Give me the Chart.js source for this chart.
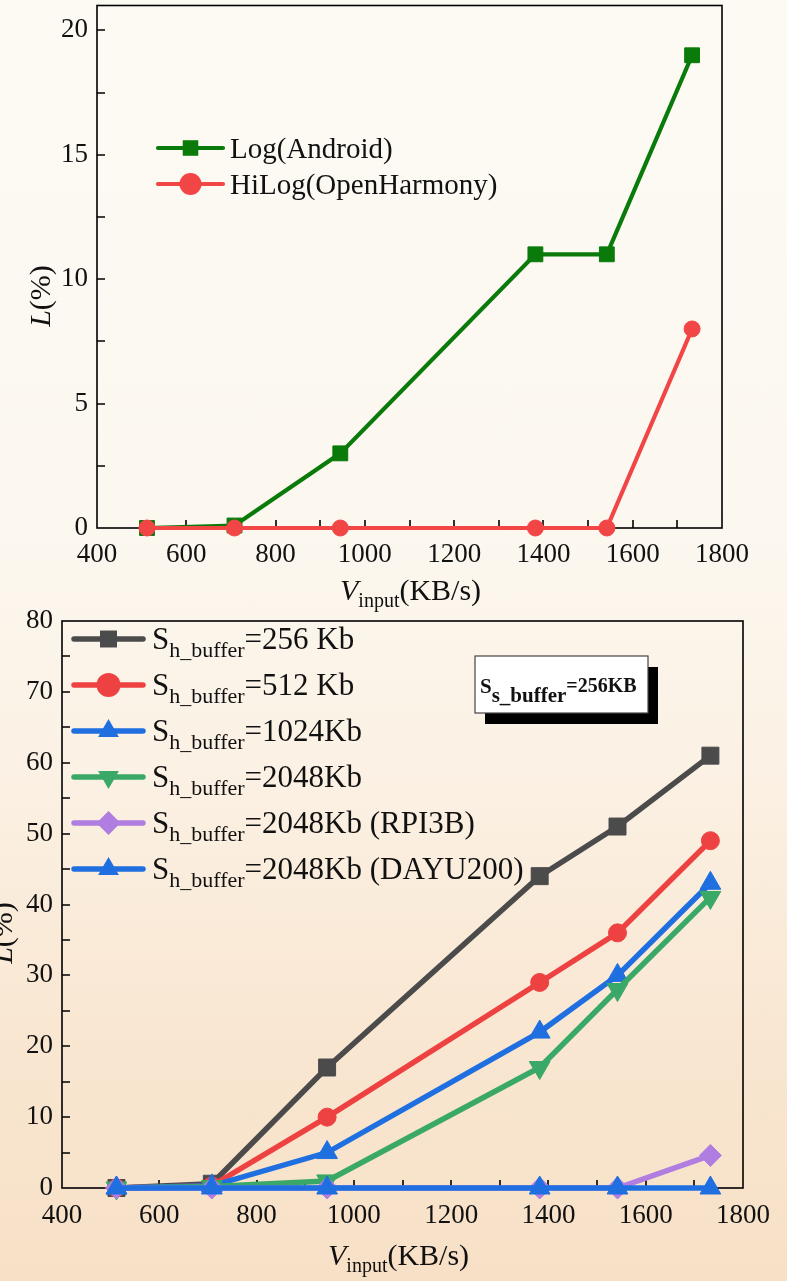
<!DOCTYPE html>
<html>
<head>
<meta charset="utf-8">
<script src="https://cdn.jsdelivr.net/npm/chart.js@4.4.1/dist/chart.umd.min.js"></script>
<style>
  html, body { margin: 0; padding: 0; }
  body {
    width: 787px; height: 1281px; position: relative; overflow: hidden;
    background: linear-gradient(180deg, #fdfaf4 0%, #fcf8f0 40%, #fbf1e4 60%, #f9e7d2 80%, #f7e0c6 100%);
  }
  canvas { position: absolute; left: 0; }
  #top-chart { top: -6px; }
  #bottom-chart { top: 598px; }
</style>
</head>
<body>
<canvas id="top-chart" width="787" height="621"></canvas>
<canvas id="bottom-chart" width="787" height="683"></canvas>
<script>
// input speeds (KB/s)
const speeds = [512, 708, 945, 1382, 1542, 1733];

// top chart: loss rate L(%)
const logAndroid = [0, 0.1, 3, 11, 11, 19];
const hiLogOH = [0, 0, 0, 0, 0, 8];

// bottom chart: loss rate L(%) by hardware buffer size
const buf256 = [0, 0.6, 17, 44, 51, 61];
const buf512 = [0, 0.3, 10, 29, 36, 49];
const buf1024 = [0, 0.3, 5, 22, 30, 43];
const buf2048 = [0, 0.2, 1, 17, 28, 41];
const buf2048Rpi = [0, 0, 0, 0, 0, 4.6];
const buf2048Dayu = [0, 0, 0, 0, 0, 0];

const SERIF = "'Liberation Serif', 'Times New Roman', serif";
Chart.defaults.font.family = SERIF;

const pts = arr => speeds.map((x, i) => ({ x, y: arr[i] }));

function series(data, color, style, radius, width, order, rot) {
  return {
    data: pts(data),
    borderColor: color,
    backgroundColor: color,
    pointBackgroundColor: color,
    pointBorderColor: color,
    pointBorderWidth: 1,
    pointStyle: style,
    pointRotation: rot || 0,
    pointRadius: radius,
    pointHoverRadius: radius,
    borderWidth: width,
    tension: 0,
    clip: false,
    order
  };
}

function marker(ctx, style, x, y, r, rot, color) {
  ctx.fillStyle = color;
  ctx.beginPath();
  if (style === 'rect') {
    const s = r * Math.SQRT1_2;
    ctx.rect(x - s, y - s, 2 * s, 2 * s);
  } else if (style === 'circle') {
    ctx.arc(x, y, r, 0, Math.PI * 2);
  } else if (style === 'rectRot') {
    ctx.moveTo(x, y - r); ctx.lineTo(x + r, y); ctx.lineTo(x, y + r); ctx.lineTo(x - r, y);
    ctx.closePath();
  } else if (style === 'triangle') {
    let a = (rot || 0) * Math.PI / 180;
    ctx.moveTo(x + Math.sin(a) * r, y - Math.cos(a) * r);
    a += 2 * Math.PI / 3;
    ctx.lineTo(x + Math.sin(a) * r, y - Math.cos(a) * r);
    a += 2 * Math.PI / 3;
    ctx.lineTo(x + Math.sin(a) * r, y - Math.cos(a) * r);
    ctx.closePath();
  }
  ctx.fill();
}

function rich(ctx, x, y, parts) {
  ctx.textAlign = 'left';
  ctx.textBaseline = 'alphabetic';
  for (const p of parts) {
    ctx.font = p.font;
    ctx.fillText(p.t, x, y + (p.dy || 0));
    x += ctx.measureText(p.t).width;
  }
  return x;
}

// box + inward ticks
const frame = {
  id: 'frame',
  beforeDatasetsDraw(chart, args, opts) {
    const { ctx, chartArea: a, scales: { x, y } } = chart;
    ctx.save();
    ctx.strokeStyle = '#000';
    ctx.lineWidth = 1.6;
    ctx.strokeRect(a.left, a.top, a.right - a.left, a.bottom - a.top);
    ctx.beginPath();
    for (let v = x.min + opts.xStep; v < x.max; v += opts.xStep) {
      const px = Math.round(x.getPixelForValue(v));
      ctx.moveTo(px, a.bottom); ctx.lineTo(px, a.bottom - 8);
    }
    for (let v = y.min + opts.yStep; v < y.max; v += opts.yStep) {
      const py = Math.round(y.getPixelForValue(v));
      ctx.moveTo(a.left, py); ctx.lineTo(a.left + 8, py);
    }
    ctx.stroke();
    ctx.restore();
  }
};

// legend, titles and notes drawn as rich text
const overlay = {
  id: 'overlay',
  afterDraw(chart, args, opts) {
    const ctx = chart.ctx;
    const dsets = chart.data.datasets;
    ctx.save();
    ctx.fillStyle = '#111';

    // legend
    const lg = opts.legend;
    lg.items.forEach((it, i) => {
      const ds = dsets[it.ds];
      const cy = lg.y0 + i * lg.dy;
      ctx.strokeStyle = ds.borderColor;
      ctx.lineWidth = ds.borderWidth;
      ctx.lineCap = 'round';
      ctx.beginPath();
      ctx.moveTo(lg.x1, cy); ctx.lineTo(lg.x2, cy);
      ctx.stroke();
      marker(ctx, ds.pointStyle, (lg.x1 + lg.x2) / 2, cy, lg.r, ds.pointRotation, ds.borderColor);
      ctx.fillStyle = '#111';
      rich(ctx, lg.tx, cy + lg.base, it.parts);
    });

    // note box
    if (opts.note) {
      const n = opts.note;
      ctx.fillStyle = '#000';
      ctx.fillRect(n.x + 10, n.y + 11, n.w, n.h);
      ctx.fillStyle = '#fff';
      ctx.fillRect(n.x, n.y, n.w, n.h);
      ctx.strokeStyle = '#444';
      ctx.lineWidth = 1.2;
      ctx.strokeRect(n.x, n.y, n.w, n.h);
      ctx.fillStyle = '#111';
      rich(ctx, n.x + 5, n.y + 37, n.parts);
    }

    // x title
    const xt = opts.xTitle;
    rich(ctx, xt.x, xt.y, [
      { t: 'V', font: 'italic 30px ' + SERIF },
      { t: 'input', font: '20px ' + SERIF, dy: 7 },
      { t: '(KB/s)', font: '30px ' + SERIF }
    ]);

    // y title
    const yt = opts.yTitle;
    ctx.translate(yt.x, yt.y);
    ctx.rotate(-Math.PI / 2);
    ctx.font = 'italic 30px ' + SERIF;
    const wL = ctx.measureText('L').width;
    ctx.font = '30px ' + SERIF;
    const wR = ctx.measureText('(%)').width;
    rich(ctx, -(wL + wR) / 2, 0, [
      { t: 'L', font: 'italic 30px ' + SERIF },
      { t: '(%)', font: '30px ' + SERIF }
    ]);
    ctx.restore();
  }
};

function noPad(s) {
  s.paddingTop = 0; s.paddingBottom = 0; s.paddingLeft = 0; s.paddingRight = 0;
}

function baseOptions(cfg) {
  return {
    responsive: false,
    animation: false,
    devicePixelRatio: 1,
    layout: { padding: cfg.padding },
    plugins: {
      legend: { display: false },
      tooltip: { enabled: false },
      frame: cfg.frame,
      overlay: cfg.overlay
    },
    scales: {
      x: {
        type: 'linear',
        min: 400, max: 1800,
        grid: { display: true, drawOnChartArea: false, drawTicks: false },
        border: { display: false },
        ticks: { stepSize: 200, padding: cfg.xPad, color: '#111', font: { size: 27 }, maxRotation: 0, callback: v => String(v) },
        afterFit: s => { s.height = cfg.xH; noPad(s); }
      },
      y: {
        min: 0, max: cfg.yMax,
        grid: { display: true, drawOnChartArea: false, drawTicks: false },
        border: { display: false },
        ticks: { stepSize: cfg.yStep, includeBounds: false, padding: 9, color: '#111', font: { size: 27 }, callback: v => String(v) },
        afterFit: s => { s.width = cfg.yW; noPad(s); }
      }
    }
  };
}

const F = size => size + 'px ' + SERIF;
const sub = (label) => [
  { t: 'S', font: F(31) },
  { t: 'h_buffer', font: F(22), dy: 8 },
  { t: label, font: F(31) }
];

// top canvas is shifted up 6px, so its local y = page y + 6
new Chart(document.getElementById('top-chart'), {
  type: 'line',
  data: {
    datasets: [
      series(logAndroid, '#0a7a0a', 'rect', 10.5, 4.2, 1),
      series(hiLogOH, '#f24646', 'circle', 8, 4.2, 0)
    ]
  },
  options: baseOptions({
    padding: { left: 0, right: 65, top: 0, bottom: 0 },
    yMax: 21, yStep: 5, yW: 97, xH: 87, xPad: 11,
    frame: { xStep: 100, yStep: 2.5 },
    overlay: {
      legend: {
        x1: 158, x2: 223, tx: 230, y0: 154, dy: 36, r: 11, base: 10,
        items: [
          { ds: 0, parts: [{ t: 'Log(Android)', font: F(29) }] },
          { ds: 1, parts: [{ t: 'HiLog(OpenHarmony)', font: F(29) }] }
        ]
      },
      xTitle: { x: 340, y: 606 },
      yTitle: { x: 50, y: 302 }
    }
  }),
  plugins: [frame, overlay]
});

new Chart(document.getElementById('bottom-chart'), {
  type: 'line',
  data: {
    datasets: [
      series(buf256, '#4b4b4b', 'rect', 12, 5.5, 5),
      series(buf512, '#ee4242', 'circle', 9, 5.5, 4),
      series(buf1024, '#1f6fe0', 'triangle', 12, 5.5, 3),
      series(buf2048, '#3aa866', 'triangle', 12, 5.5, 2, 180),
      series(buf2048Rpi, '#b07ee0', 'rectRot', 11, 5.5, 1),
      series(buf2048Dayu, '#1f6fe0', 'triangle', 12, 5.5, 0)
    ]
  },
  options: baseOptions({
    padding: { left: 0, right: 44, top: 23, bottom: 0 },
    yMax: 80, yStep: 10, yW: 62, xH: 93, xPad: 12,
    frame: { xStep: 100, yStep: 5 },
    overlay: {
      legend: {
        x1: 74, x2: 143, tx: 152, y0: 41, dy: 46, r: 12, base: 10,
        items: [
          { ds: 0, parts: sub('=256 Kb') },
          { ds: 1, parts: sub('=512 Kb') },
          { ds: 2, parts: sub('=1024Kb') },
          { ds: 3, parts: sub('=2048Kb') },
          { ds: 4, parts: sub('=2048Kb (RPI3B)') },
          { ds: 5, parts: sub('=2048Kb (DAYU200)') }
        ]
      },
      note: {
        x: 475, y: 58, w: 173, h: 57,
        parts: [
          { t: 'S', font: 'bold 21px ' + SERIF },
          { t: 's_buffer', font: 'bold 21px ' + SERIF, dy: 9 },
          { t: '=256KB', font: 'bold 20px ' + SERIF, dy: -1 }
        ]
      },
      xTitle: { x: 328, y: 667 },
      yTitle: { x: 12, y: 335 }
    }
  }),
  plugins: [frame, overlay]
});
</script>
</body>
</html>
